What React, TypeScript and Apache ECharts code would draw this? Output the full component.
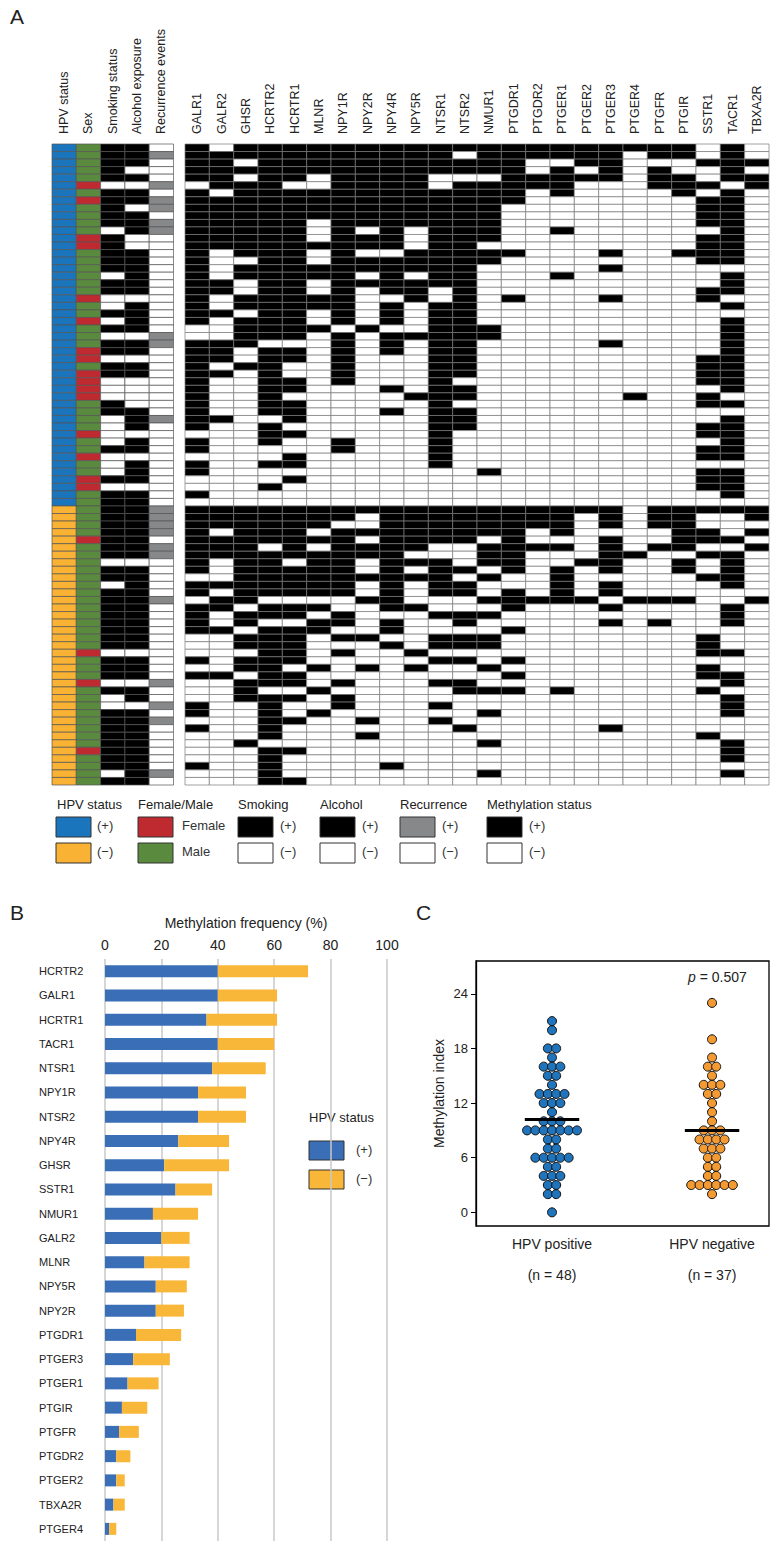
import React, { useEffect, useRef } from "react";
import * as echarts from "echarts";

// ---------- Panel A data ----------
const clinicalCols = ["HPV status", "Sex", "Smoking status", "Alcohol exposure", "Recurrence events"];
const genes = ["GALR1", "GALR2", "GHSR", "HCRTR2", "HCRTR1", "MLNR", "NPY1R", "NPY2R", "NPY4R", "NPY5R", "NTSR1", "NTSR2", "NMUR1", "PTGDR1", "PTGDR2", "PTGER1", "PTGER2", "PTGER3", "PTGER4", "PTGFR", "PTGIR", "SSTR1", "TACR1", "TBXA2R"];
const hpvPositiveCount = 48;
const hpvNegativeCount = 37;
const femaleRows = [5, 7, 12, 13, 20, 23, 27, 28, 30, 31, 32, 33, 38, 41, 44, 45, 52, 67, 71, 80];
const smokingNegativeRows = [5, 11, 17, 20, 21, 23, 25, 28, 31, 32, 33, 36, 37, 38, 39, 41, 42, 43, 45, 55, 58, 67, 71, 73, 74, 83];
const alcoholNegativeRows = [3, 5, 8, 12, 13, 20, 25, 28, 31, 32, 33, 34, 38, 41, 45, 55, 67, 71, 74];
const recurrenceRows = [1, 5, 7, 8, 10, 11, 25, 26, 36, 48, 49, 50, 51, 53, 54, 60, 71, 74, 76, 83];

// 1 = methylated, 0 = unmethylated; gene order as in `genes`
const methylationHPVpos = [
  "101111111111111111111010", "111111111110111111011010", "110111111111110011000111", "111111111111110101010010",
  "110110111100011111011011", "011100111101111100011101", "101111111111110100001010", "111111111111110000000110",
  "111111111111100000000110", "111111111111100000000110", "111110111111100000000110", "111110101011100100000010",
  "111110111011100000000110", "111111111011000000000110", "101110100111110001001110", "100110111111100000000110",
  "101111111111000001000000", "101111101011000100000010", "110110111111000000000010", "110110101101000000000110",
  "101111100101010001000100", "101111101011000000000010", "110110101011000000000000", "101110101011000000000010",
  "001111010011100000000010", "001110101111100000000010", "111000101011000001000010", "110110101011000000000010",
  "110110100011000000000110", "101100100011000000000110", "110100100011000000000110", "100110100010000000000110",
  "100110001011000000000010", "100100000111000000100100", "100110000010000000000110", "100110001011000000000000",
  "110010000011000000000010", "100100000011000000000110", "000110000010000000000110", "100100100010000000000010",
  "100000100010000000000110", "000010000010000000000110", "100110000010000000000000", "100000000000100000000110",
  "000010000000000000000110", "000100000000000000000110", "100000000000000000000010", "000000000000000000000000",
];
const methylationHPVneg = [
  "111111111111111111011111", "111111101111111101011001", "111111001111111101011000", "101110111111110100001101",
  "111111101111010001001110", "111010111100111101011001", "111111111000110001100110", "101101101110110011001010",
  "101111101011010101001010", "001111111110100100000110", "111111101011000101000010", "101111101011010101000000",
  "011000011000111110111001", "110111001100010001000010", "101110100011100000000010", "101001101001000001010010",
  "110111001000010000000000", "001110110011100000000100", "001110001011100000000100", "000110100100000000000110",
  "101110000011010000000000", "001101010100100000000100", "110110000000010000000110", "001110100011000000000010",
  "001001000001110100000100", "001110100000000000000010", "100100100010000000000010", "100101000000100000000010",
  "000110010010000000000000", "100100000001000001000000", "000100010000000000000100", "001000000000100000000010",
  "000110000000000000000010", "000100000000000000000010", "100100001000000000000000", "000100000000100000000010",
  "000110000000000000000000",
];

// ---------- Panel B data ----------
const freqGenes = ["HCRTR2", "GALR1", "HCRTR1", "TACR1", "NTSR1", "NPY1R", "NTSR2", "NPY4R", "GHSR", "SSTR1", "NMUR1", "GALR2", "MLNR", "NPY5R", "NPY2R", "PTGDR1", "PTGER3", "PTGER1", "PTGIR", "PTGFR", "PTGDR2", "PTGER2", "TBXA2R", "PTGER4"];
const freqHPVpos = [40, 40, 36, 40, 38, 33, 33, 26, 21, 25, 17, 20, 14, 18, 18, 11, 10, 8, 6, 5, 4, 4, 3, 1.5];
const freqHPVneg = [32, 21, 25, 20, 19, 17, 17, 18, 23, 13, 16, 10, 16, 11, 10, 16, 13, 11, 9, 7, 5, 3, 4, 2.5];

// ---------- Panel C data ----------
const miPositive = [21, 20, 18, 18, 17, 16, 16, 16, 15, 15, 14, 13, 13, 13, 13, 12, 12, 12, 11, 10, 10, 10, 9, 9, 9, 9, 9, 9, 9, 8, 8, 7, 7, 6, 6, 6, 6, 6, 5, 5, 4, 4, 4, 3, 3, 2, 2, 0];
const miNegative = [23, 19, 17, 16, 16, 15, 14, 14, 14, 13, 13, 12, 11, 10, 9, 9, 9, 8, 8, 8, 8, 7, 7, 7, 6, 6, 5, 5, 4, 4, 3, 3, 3, 3, 3, 3, 2];
const meanPositive = 10.2;
const meanNegative = 9.0;
const miTicks = [0, 6, 12, 18, 24];
const groupLabels = ["HPV positive", "HPV negative"];
const groupN = [48, 37];
const pValue = "0.507";

// ---------- colours ----------
const C_BLUE = "#1b75bc";
const C_YELLOW = "#f9b233";
const C_RED = "#be2a2f";
const C_GREEN = "#5a8a3e";
const C_GRAY = "#87888a";
const palette = ["#ffffff", "#000000", C_GRAY, C_BLUE, C_YELLOW, C_RED, C_GREEN];
const FONT = "'Liberation Sans', Arial, sans-serif";

function buildClinical() {
  const total = hpvPositiveCount + hpvNegativeCount;
  const out: number[][] = [];
  for (let r = 0; r < total; r++) {
    out.push([0, r, r < hpvPositiveCount ? 3 : 4]);
    out.push([1, r, femaleRows.includes(r) ? 5 : 6]);
    out.push([2, r, smokingNegativeRows.includes(r) ? 0 : 1]);
    out.push([3, r, alcoholNegativeRows.includes(r) ? 0 : 1]);
    out.push([4, r, recurrenceRows.includes(r) ? 2 : 0]);
  }
  return out;
}

function buildGenes() {
  const rows = [...methylationHPVpos, ...methylationHPVneg];
  const out: number[][] = [];
  rows.forEach((s, r) => {
    const t = s.padEnd(genes.length, "0").slice(0, genes.length);
    for (let c = 0; c < genes.length; c++) out.push([c, r, t[c] === "1" ? 1 : 0]);
  });
  return out;
}

function swarm(values: number[], center: number, step: number) {
  const counts = new Map<number, number>();
  values.forEach((v) => counts.set(v, (counts.get(v) || 0) + 1));
  const seen = new Map<number, number>();
  return values.map((v) => {
    const n = counts.get(v)!;
    const i = seen.get(v) || 0;
    seen.set(v, i + 1);
    return [center + (i - (n - 1) / 2) * step, v];
  });
}

const cellRender = (stroke: string) => (params: any, api: any) => {
  const p = api.coord([api.value(0), api.value(1)]);
  const s = api.size([1, 1]);
  return {
    type: "rect",
    shape: { x: p[0] - s[0] / 2, y: p[1] - s[1] / 2, width: s[0], height: s[1] },
    style: { fill: palette[api.value(2)], stroke, lineWidth: 0.7 },
  };
};

function legendA() {
  const els: any[] = [];
  const headers = [
    ["HPV status", 57], ["Female/Male", 138], ["Smoking", 238], ["Alcohol", 320], ["Recurrence", 400], ["Methylation status", 487],
  ] as const;
  headers.forEach(([t, x]) =>
    els.push({ type: "text", left: x, top: 798, style: { text: t, fontSize: 13, fontFamily: FONT, fill: "#222" } })
  );
  const boxes: [number, string, string, string, string][] = [
    [56, C_BLUE, C_YELLOW, "(+)", "(\u2212)"],
    [138, C_RED, C_GREEN, "Female", "Male"],
    [238, "#000", "#fff", "(+)", "(\u2212)"],
    [320, "#000", "#fff", "(+)", "(\u2212)"],
    [400, C_GRAY, "#fff", "(+)", "(\u2212)"],
    [487, "#000", "#fff", "(+)", "(\u2212)"],
  ];
  boxes.forEach(([x, c1, c2, t1, t2], i) => {
    const tx = i === 1 ? x + 44 : i === 0 ? x + 41 : x + 42;
    els.push({ type: "rect", shape: { x, y: 817, width: 35, height: 20 }, style: { fill: c1, stroke: "#333", lineWidth: 1 } });
    els.push({ type: "rect", shape: { x, y: 843, width: 35, height: 20 }, style: { fill: c2, stroke: "#333", lineWidth: 1 } });
    els.push({ type: "text", left: tx, top: 819, style: { text: t1, fontSize: 13, fontFamily: FONT, fill: "#333" } });
    els.push({ type: "text", left: tx, top: 845, style: { text: t2, fontSize: 13, fontFamily: FONT, fill: "#333" } });
  });
  return els;
}

function baseGraphics() {
  return [
    { type: "text", left: 10, top: 6, style: { text: "A", fontSize: 21, fontFamily: FONT, fill: "#222" } },
    { type: "text", left: 10, top: 902, style: { text: "B", fontSize: 21, fontFamily: FONT, fill: "#222" } },
    { type: "text", left: 416, top: 902, style: { text: "C", fontSize: 21, fontFamily: FONT, fill: "#222" } },
    ...legendA(),
    { type: "text", left: 309, top: 1111, style: { text: "HPV status", fontSize: 13, fontFamily: FONT, fill: "#222" } },
    { type: "rect", shape: { x: 309, y: 1141, width: 35, height: 19 }, style: { fill: "#3a6fb7", stroke: "#333", lineWidth: 1 } },
    { type: "rect", shape: { x: 309, y: 1170, width: 35, height: 19 }, style: { fill: "#f8b739", stroke: "#333", lineWidth: 1 } },
    { type: "text", left: 356, top: 1143, style: { text: "(+)", fontSize: 13, fontFamily: FONT, fill: "#333" } },
    { type: "text", left: 356, top: 1172, style: { text: "(\u2212)", fontSize: 13, fontFamily: FONT, fill: "#333" } },
    {
      type: "text", left: 688, top: 970,
      style: {
        text: "{i|p} = " + pValue, fontSize: 14, fontFamily: FONT, fill: "#222",
        rich: { i: { fontStyle: "italic", fontSize: 14, fontFamily: FONT, fill: "#222" } },
      },
    },
  ];
}

function buildOption() {
  const total = hpvPositiveCount + hpvNegativeCount;
  const rowIds = Array.from({ length: total }, (_, i) => String(i + 1));
  const hiddenCat = (gi: number) => ({ gridIndex: gi, type: "category", data: rowIds, inverse: true, show: false });
  const topCat = (gi: number, data: string[]) => ({
    gridIndex: gi, type: "category", data, position: "top",
    axisLine: { show: false }, axisTick: { show: false }, splitLine: { show: false },
    axisLabel: { show: false },
  });

  return {
    animation: false,
    backgroundColor: "#fff",
    textStyle: { fontFamily: FONT },
    grid: [
      { left: 52, top: 144, width: 121.5, height: 641 },
      { left: 185, top: 144, width: 584, height: 641 },
      { left: 105, top: 959, width: 282, height: 582 },
      { left: 476, top: 961, width: 293, height: 265, show: true, borderColor: "#000", borderWidth: 1.3, backgroundColor: "transparent" },
    ],
    xAxis: [
      topCat(0, clinicalCols),
      topCat(1, genes),
      {
        gridIndex: 2, type: "value", position: "top", min: 0, max: 100, interval: 20,
        axisLine: { show: false }, axisTick: { show: false },
        splitLine: { show: true, lineStyle: { color: "#c9c9c9", width: 1.5 } },
        axisLabel: { fontSize: 14, color: "#222", margin: 7 },
        name: "Methylation frequency (%)", nameLocation: "middle", nameGap: 29,
        nameTextStyle: { fontSize: 14, color: "#222" },
      },
      {
        gridIndex: 3, type: "value", min: -0.475, max: 1.356,
        axisLine: { show: false, onZero: false }, axisTick: { show: false }, splitLine: { show: false },
        axisLabel: {
          customValues: [0, 1], fontSize: 14, color: "#222", margin: 2, lineHeight: 31,
          formatter: (v: number) => {
            const i = Math.round(v);
            return `${groupLabels[i]}\n(n = ${groupN[i]})`;
          },
        },
      },
    ],
    yAxis: [
      hiddenCat(0),
      hiddenCat(1),
      {
        gridIndex: 2, type: "category", data: freqGenes, inverse: true,
        axisLine: { show: false }, axisTick: { show: false },
        axisLabel: { align: "left", margin: 66, fontSize: 11, color: "#222" },
      },
      {
        gridIndex: 3, type: "value", min: -1.5, max: 27.6, position: "left",
        axisLine: { show: true, onZero: false, lineStyle: { color: "#000", width: 1.3 } },
        axisTick: { show: true, customValues: miTicks, length: 5, lineStyle: { color: "#000" } },
        axisLabel: { customValues: miTicks, fontSize: 13, color: "#222", margin: 8 },
        splitLine: { show: false },
        name: "Methylation index", nameLocation: "middle", nameGap: 30, nameRotate: 90,
        nameTextStyle: { fontSize: 14, color: "#222" },
      },
    ],
    series: [
      {
        type: "custom", xAxisIndex: 0, yAxisIndex: 0, renderItem: cellRender("#555"),
        data: buildClinical(), encode: { x: 0, y: 1 }, silent: true,
      },
      {
        type: "custom", xAxisIndex: 1, yAxisIndex: 1, renderItem: cellRender("#7a7a7a"),
        data: buildGenes(), encode: { x: 0, y: 1 }, silent: true,
      },
      {
        type: "bar", xAxisIndex: 2, yAxisIndex: 2, stack: "f", data: freqHPVpos, barWidth: 12,
        itemStyle: { color: "#3a6fb7" },
      },
      {
        type: "bar", xAxisIndex: 2, yAxisIndex: 2, stack: "f", data: freqHPVneg, barWidth: 12,
        itemStyle: { color: "#f8b739" },
      },
      {
        type: "scatter", xAxisIndex: 3, yAxisIndex: 3, data: swarm(miPositive, 0, 0.052),
        symbol: "circle", symbolSize: 9, itemStyle: { color: "#1f74bb", borderColor: "#111", borderWidth: 1, opacity: 1 },
      },
      {
        type: "scatter", xAxisIndex: 3, yAxisIndex: 3, data: swarm(miNegative, 1, 0.052),
        symbol: "circle", symbolSize: 9, itemStyle: { color: "#f39b32", borderColor: "#111", borderWidth: 1, opacity: 1 },
      },
      {
        type: "line", xAxisIndex: 3, yAxisIndex: 3, data: [[-0.17, meanPositive], [0.17, meanPositive]],
        symbol: "none", lineStyle: { color: "#000", width: 3 }, z: 5,
      },
      {
        type: "line", xAxisIndex: 3, yAxisIndex: 3, data: [[0.83, meanNegative], [1.17, meanNegative]],
        symbol: "none", lineStyle: { color: "#000", width: 3 }, z: 5,
      },
    ],
    graphic: baseGraphics(),
  };
}

// Rotated column headers placed at the category centres reported by the axes
function columnLabels(chart: any) {
  const els: any[] = [];
  const topY = chart.convertToPixel({ yAxisIndex: 1 }, "1") - 3.77 - 10;
  const add = (axisIndex: number, names: string[]) => {
    names.forEach((n) => {
      const x = chart.convertToPixel({ xAxisIndex: axisIndex }, n);
      els.push({
        type: "text", x, y: topY, rotation: Math.PI / 2,
        style: { text: n, fontSize: 12.5, fontFamily: FONT, fill: "#222", align: "left", verticalAlign: "middle" },
      });
    });
  };
  add(0, clinicalCols);
  add(1, genes);
  return els;
}

export default function App() {
  const ref = useRef<HTMLDivElement>(null);
  useEffect(() => {
    if (!ref.current) return;
    const chart = echarts.init(ref.current, null, { renderer: "svg" });
    chart.setOption(buildOption() as any);
    chart.setOption({ graphic: [...baseGraphics(), ...columnLabels(chart)] } as any);
    return () => chart.dispose();
  }, []);
  return (
    <div
      ref={ref}
      style={{ position: "absolute", left: 0, top: 0, width: 774, height: 1548, background: "#fff" }}
    />
  );
}
